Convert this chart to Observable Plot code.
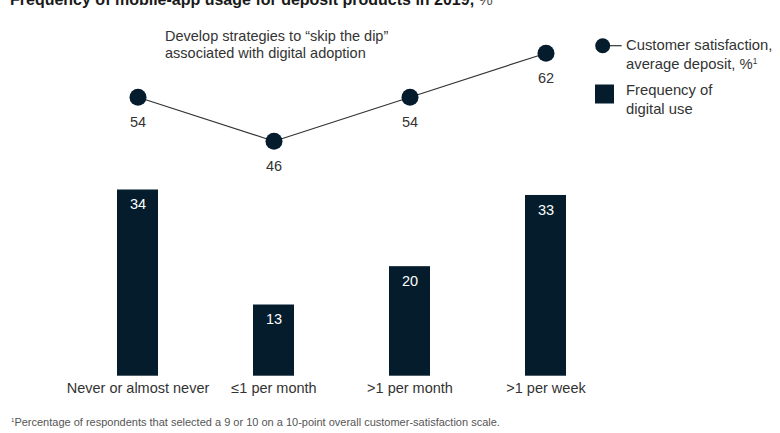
<!DOCTYPE html>
<html>
<head>
<meta charset="utf-8">
<script src="https://cdn.jsdelivr.net/npm/d3@7"></script>
<script src="https://cdn.jsdelivr.net/npm/@observablehq/plot@0.6"></script>
<style>
  html, body { margin: 0; padding: 0; background: #fff; }
  #root { position: relative; width: 780px; height: 433px; overflow: hidden; font-family: "Liberation Sans", Arial, sans-serif; color: #333; }
  .abs { position: absolute; white-space: nowrap; }
  #title { left: 10px; top: -8.5px; font-size: 16px; line-height: 16px; font-weight: bold; color: #1a1a1a; }
  #title span { font-weight: normal; color: #555; }
  #note { left: 165px; top: 28px; font-size: 14.5px; line-height: 17px; color: #333; }
  #foot { left: 11px; top: 416px; font-size: 11px; line-height: 13px; color: #555; }
  .lg { font-size: 14.8px; line-height: 19px; color: #333; }
  #lineplot, #barplot { position: absolute; left: 0; }
  #lineplot { top: 0; }
  #barplot { top: 180px; }
  sup { font-size: 0.55em; vertical-align: 0.6em; line-height: 0; }
</style>
</head>
<body>
<div id="root">
  <div id="title" class="abs">Frequency of mobile-app usage for deposit products in 2019, <span>%</span></div>
  <div id="note" class="abs">Develop strategies to “skip the dip”<br>associated with digital adoption</div>
  <div id="lineplot"></div>
  <div id="barplot"></div>
  <svg class="abs" style="left:590px;top:30px" width="40" height="80">
    <line x1="12.7" y1="15.7" x2="31.7" y2="15.7" stroke="#333" stroke-width="1.2"></line>
    <circle cx="12.7" cy="15.7" r="7.5" fill="#051c2c"></circle>
    <rect x="5" y="54.5" width="19" height="19" fill="#051c2c"></rect>
  </svg>
  <div class="abs lg" style="left:626px;top:36px">Customer satisfaction,<br>average deposit, %<sup>1</sup></div>
  <div class="abs lg" style="left:626px;top:81px">Frequency of<br>digital use</div>
  <div id="foot" class="abs"><sup>1</sup>Percentage of respondents that selected a 9 or 10 on a 10-point overall customer-satisfaction scale.</div>
</div>
<script>
const categories = ["Never or almost never", "≤1 per month", ">1 per month", ">1 per week"];
const satisfaction = [54, 46, 54, 62];
const digitalUse = [34, 13, 20, 33];

const navy = "#051c2c";
const lineData = categories.map((c, i) => ({cat: c, v: satisfaction[i]}));
const barData = categories.map((c, i) => ({cat: c, v: digitalUse[i]}));

const xOpts = {domain: categories, type: "band", padding: 0.6985};
const W = 780, ML = 22, MR = 119;

const linePlot = Plot.plot({
  width: W, height: 180,
  marginLeft: ML, marginRight: MR, marginTop: 8.7, marginBottom: 6.3,
  style: {fontFamily: "Liberation Sans, Arial, sans-serif", background: "transparent", overflow: "visible"},
  x: {...xOpts, axis: null},
  y: {domain: [40, 70], axis: null},
  marks: [
    Plot.line(lineData, {x: "cat", y: "v", stroke: "#333", strokeWidth: 1.2}),
    Plot.dot(lineData, {x: "cat", y: "v", r: 8.5, fill: navy, stroke: "none"}),
    Plot.text(lineData, {x: "cat", y: "v", text: d => String(d.v), dy: 25, fontSize: 14.5, fill: "#333"})
  ]
});
document.getElementById("lineplot").appendChild(linePlot);

const barPlot = Plot.plot({
  width: W, height: 225,
  marginLeft: ML, marginRight: MR, marginTop: 9.5, marginBottom: 29.3,
  style: {fontFamily: "Liberation Sans, Arial, sans-serif", background: "transparent", overflow: "visible"},
  x: {...xOpts, label: null},
  y: {domain: [0, 34], axis: null},
  marks: [
    Plot.barY(barData, {x: "cat", y: "v", fill: navy}),
    Plot.text(barData, {x: "cat", y: "v", text: d => String(d.v), dy: 14.5, fontSize: 14.5, fill: "#fff"}),
    Plot.axisX({tickSize: 0, tickPadding: 7, fontSize: 14.5, color: "#333", label: null})
  ]
});
document.getElementById("barplot").appendChild(barPlot);
</script>
</body>
</html>
